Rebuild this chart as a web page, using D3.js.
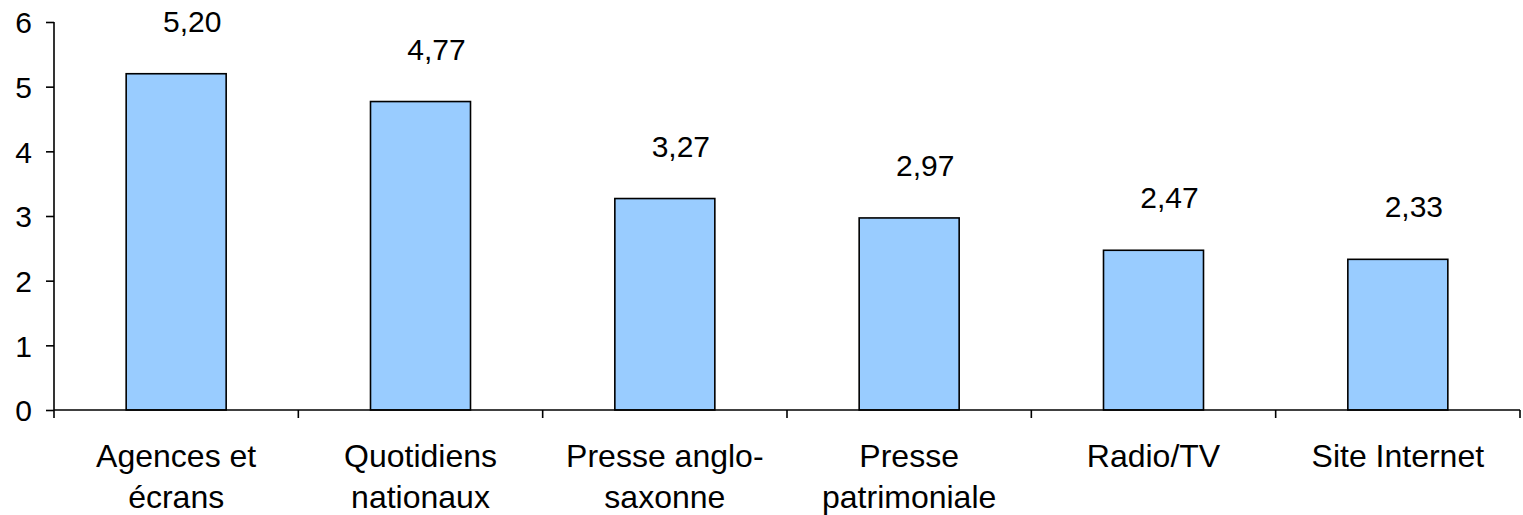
<!DOCTYPE html>
<html><head><meta charset="utf-8">
<script src="https://cdn.jsdelivr.net/npm/d3@7"></script>
<style>body{margin:0;background:#fff;} text{font-family:"Liberation Sans",Arial,sans-serif;fill:#000;}</style>
</head><body>
<svg id="c" width="1523" height="515"></svg>
<script>
const categories = ["Agences et écrans","Quotidiens nationaux","Presse anglo-saxonne","Presse patrimoniale","Radio/TV","Site Internet"];
const categoryLines = [["Agences et","écrans"],["Quotidiens","nationaux"],["Presse anglo-","saxonne"],["Presse","patrimoniale"],["Radio/TV"],["Site Internet"]];
const values = [5.20,4.77,3.27,2.97,2.47,2.33];
const valueLabels = ["5,20","4,77","3,27","2,97","2,47","2,33"];
const yTicks = [0,1,2,3,4,5,6];

(function(){
const svg = d3.select("#c");
const mL = 54, mR = 1520, mT = 22, mB = 410;
const x = d3.scaleBand().domain(categories).range([mL, mR]).paddingInner(0).paddingOuter(0);
const y = d3.scaleLinear().domain([0,6]).range([mB, mT]);

// bars
const bw = 100;
svg.selectAll("rect.bar").data(values).enter().append("rect")
  .attr("x",(d,i)=>x(categories[i]) + x.bandwidth()/2 - bw/2)
  .attr("y",d=>y(d))
  .attr("width",bw)
  .attr("height",d=>mB - y(d))
  .attr("fill","#99CCFF").attr("stroke","#000").attr("stroke-width",1.6);

// y axis
const ya = svg.append("g").attr("transform",`translate(${mL},0)`)
  .call(d3.axisLeft(y).tickValues(yTicks).tickSize(8).tickPadding(14).tickFormat(d3.format("d")));
ya.select(".domain").attr("stroke","#000").attr("stroke-width",1.6).attr("d",`M0,${mT}V${mB}`);
ya.selectAll(".tick line").attr("stroke","#000").attr("stroke-width",1.6);
ya.selectAll(".tick text").style("font-size","30px").attr("dy","0.36em");

// x axis
const xa = svg.append("g").attr("transform",`translate(0,${mB})`);
xa.append("path").attr("d",`M${mL},0H${mR}`).attr("stroke","#000").attr("stroke-width",1.6);
const bounds = categories.map(c=>x(c)).concat([mR]);
xa.selectAll("line.tk").data(bounds).enter().append("line")
  .attr("x1",d=>d).attr("x2",d=>d).attr("y1",0).attr("y2",8)
  .attr("stroke","#000").attr("stroke-width",1.6);
categoryLines.forEach((lines,i)=>{
  const t = xa.append("text").attr("text-anchor","middle").style("font-size","32px");
  lines.forEach((ln,j)=>{
    t.append("tspan").attr("x", x(categories[i]) + x.bandwidth()/2).attr("y", 57 + j*41).text(ln);
  });
});

// value labels
svg.selectAll("text.val").data(values).enter().append("text")
  .attr("text-anchor","middle").style("font-size","30px")
  .attr("x",(d,i)=>x(categories[i]) + x.bandwidth()/2 + 16)
  .attr("y",d=>y(d) - 42)
  .text((d,i)=>valueLabels[i]);
})();
</script>
</body></html>
